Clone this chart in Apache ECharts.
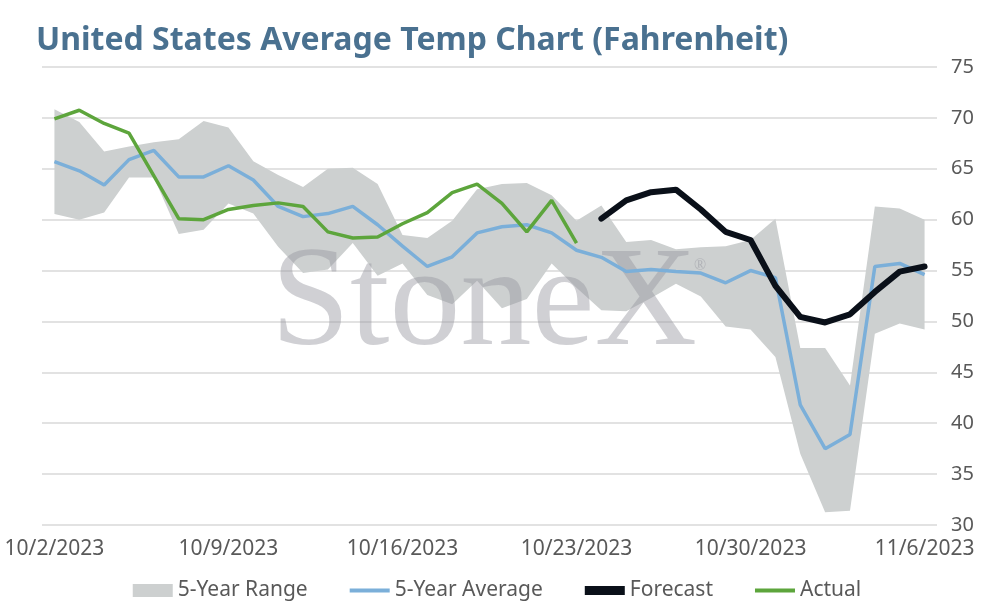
<!DOCTYPE html>
<html>
<head>
<meta charset="utf-8">
<script src="https://cdn.jsdelivr.net/npm/echarts@6/dist/echarts.min.js"></script>
<style>
html,body{margin:0;padding:0;background:#fff;}
#chart{width:994px;height:606px;}
</style>
</head>
<body>
<div id="chart"></div>
<script>
const dates = ['10/2/2023','10/3/2023','10/4/2023','10/5/2023','10/6/2023','10/7/2023','10/8/2023',
  '10/9/2023','10/10/2023','10/11/2023','10/12/2023','10/13/2023','10/14/2023','10/15/2023',
  '10/16/2023','10/17/2023','10/18/2023','10/19/2023','10/20/2023','10/21/2023','10/22/2023',
  '10/23/2023','10/24/2023','10/25/2023','10/26/2023','10/27/2023','10/28/2023','10/29/2023',
  '10/30/2023','10/31/2023','11/1/2023','11/2/2023','11/3/2023','11/4/2023','11/5/2023','11/6/2023'];

const rangeLow = [60.55,60.0,60.7,64.15,64.15,58.6,59.0,61.6,60.6,57.35,54.75,55.1,57.7,54.5,55.7,52.6,51.7,54.0,
  51.3,52.2,55.7,53.3,51.1,51.0,52.3,53.7,52.45,49.5,49.2,46.5,37.0,31.25,31.4,48.8,49.8,49.2];
const rangeHigh = [70.85,69.6,66.7,67.2,67.6,67.9,69.7,69.05,65.75,64.4,63.2,65.0,65.1,63.5,58.5,58.2,59.9,63.0,
  63.5,63.6,62.4,59.9,61.4,57.8,58.0,57.1,57.3,57.4,58.0,60.1,47.4,47.4,43.7,61.3,61.1,60.0];
const avg5 = [65.7,64.8,63.4,65.9,66.8,64.2,64.2,65.3,63.9,61.3,60.3,60.6,61.3,59.5,57.4,55.4,56.35,58.7,
  59.3,59.5,58.7,57.0,56.3,54.9,55.1,54.9,54.75,53.8,55.0,54.3,41.8,37.5,38.9,55.4,55.7,54.6];
const forecast = [null,null,null,null,null,null,null,null,null,null,null,null,null,null,null,null,null,null,
  null,null,null,null,60.1,61.9,62.7,62.95,61.0,58.8,58.0,53.5,50.45,49.9,50.7,52.9,54.9,55.4];
const actual = [69.9,70.75,69.45,68.5,64.3,60.1,60.0,61.0,61.4,61.65,61.3,58.8,58.2,58.3,59.6,60.7,62.65,63.5,
  61.6,58.8,61.9,57.7,null,null,null,null,null,null,null,null,null,null,null,null,null,null];
const yTicks = {min: 30, max: 75, interval: 5};

const rangeSpan = rangeHigh.map((v, i) => v - rangeLow[i]);

const thinIcon = 'path://M0,0 L0,0 M0,13 L0,13 M0,4.5 L40,4.5 L40,8.5 L0,8.5 Z';
const thickIcon = 'path://M0,0 L0,0 M0,13 L0,13 M0,2 L40,2 L40,11 L0,11 Z';

const chart = echarts.init(document.getElementById('chart'));
const labelFont = '"Noto Sans", sans-serif';
chart.setOption({
  animation: false,
  backgroundColor: '#fff',
  title: {
    text: 'United States Average Temp Chart (Fahrenheit)',
    left: 31, top: 20,
    textStyle: {fontFamily: labelFont, fontWeight: 'bold', fontSize: 32, color: '#4A7190'}
  },
  grid: {left: 42, right: 57, top: 67, bottom: 81},
  legend: {
    top: 575, left: 'center',
    itemWidth: 40, itemHeight: 13, itemGap: 42,
    textStyle: {fontFamily: labelFont, fontSize: 21, color: '#595959'},
    data: [
      {name: '5-Year Range', icon: 'rect'},
      {name: '5-Year Average', icon: thinIcon},
      {name: 'Forecast', icon: thickIcon},
      {name: 'Actual', icon: thinIcon}
    ]
  },
  xAxis: {
    type: 'category', data: dates, boundaryGap: true,
    axisLine: {show: false}, axisTick: {show: false},
    axisLabel: {interval: 6, margin: 14, fontFamily: labelFont, fontSize: 21, color: '#595959'},
    splitLine: {show: false}
  },
  yAxis: {
    type: 'value', position: 'right', min: yTicks.min, max: yTicks.max, interval: yTicks.interval,
    axisLine: {show: false}, axisTick: {show: false},
    axisLabel: {margin: 14, fontFamily: labelFont, fontSize: 20, color: '#595959'},
    splitLine: {lineStyle: {color: '#D9D9D9', width: 1.5}}
  },
  graphic: [
    {type: 'text', left: 271, top: 236, z: 2, silent: true,
     style: {text: 'StoneX', font: 'normal 142px "Liberation Serif", serif', fill: 'rgba(150,150,160,0.45)'}},
    {type: 'text', left: 694, top: 258, z: 2, silent: true,
     style: {text: '®', font: 'normal 16px "Liberation Serif", serif', fill: 'rgba(150,150,160,0.5)'}}
  ],
  series: [
    {name: 'rangeLow', type: 'line', data: rangeLow, stack: 'range', symbol: 'none', silent: true,
     lineStyle: {opacity: 0, width: 0}, z: 1},
    {name: '5-Year Range', type: 'line', data: rangeSpan, stack: 'range', symbol: 'none', silent: true,
     lineStyle: {width: 0, opacity: 0}, itemStyle: {color: '#CDD0D0'},
     areaStyle: {color: '#CDD0D0', opacity: 1}, z: 1},
    {name: '5-Year Average', type: 'line', data: avg5, symbol: 'none',
     itemStyle: {color: '#7BAFD9'}, lineStyle: {color: '#7BAFD9', width: 3.5}, z: 3},
    {name: 'Forecast', type: 'line', data: forecast, symbol: 'none',
     itemStyle: {color: '#0A1019'}, lineStyle: {color: '#0A1019', width: 6, cap: 'round', join: 'round'}, z: 4},
    {name: 'Actual', type: 'line', data: actual, symbol: 'none',
     itemStyle: {color: '#5DA53C'}, lineStyle: {color: '#5DA53C', width: 3.5}, z: 5}
  ]
});
</script>
</body>
</html>
